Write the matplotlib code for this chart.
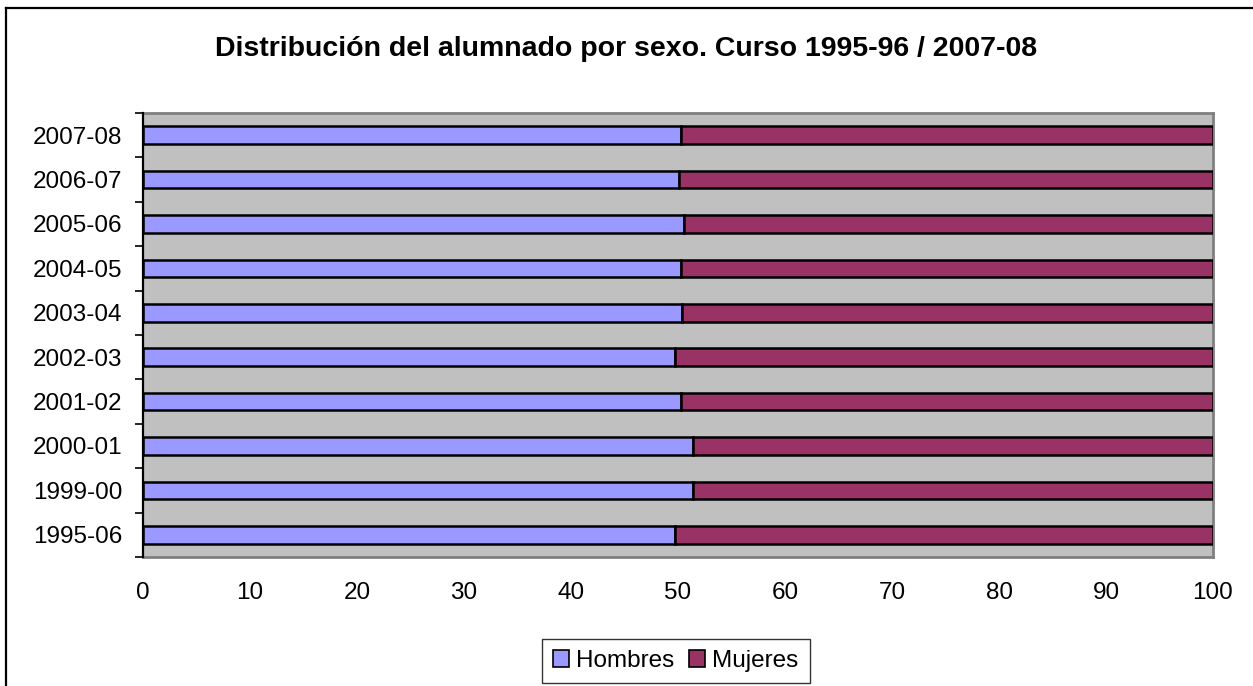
import matplotlib
matplotlib.use("Agg")
import matplotlib.pyplot as plt
from matplotlib.lines import Line2D
from matplotlib.patches import Patch

plt.rcParams['font.family'] = ['Liberation Sans', 'DejaVu Sans']

courses = ["1995-06", "1999-00", "2000-01", "2001-02", "2002-03",
           "2003-04", "2004-05", "2005-06", "2006-07", "2007-08"]
hombres = [49.7, 51.4, 51.4, 50.3, 49.7, 50.4, 50.3, 50.6, 50.1, 50.3]
mujeres = [100 - h for h in hombres]
xticks = [0, 10, 20, 30, 40, 50, 60, 70, 80, 90, 100]
title = "Distribución del alumnado por sexo. Curso 1995-96 / 2007-08"

c_h = "#9999FF"
c_m = "#993366"

fig = plt.figure(figsize=(12.53, 6.86), dpi=100)
fig.patch.set_facecolor("white")

ax = fig.add_axes([143/1253, 1 - 557/686, (1213 - 143)/1253, (557 - 113)/686])
ax.set_facecolor("#C0C0C0")

ypos = list(range(len(courses)))
ax.barh(ypos, hombres, height=0.4, color=c_h, edgecolor="black", linewidth=1.8, zorder=3)
ax.barh(ypos, mujeres, left=hombres, height=0.4, color=c_m, edgecolor="black", linewidth=1.8, zorder=3)

ax.set_xlim(0, 100)
ax.set_ylim(-0.5, len(courses) - 0.5)
ax.set_xticks(xticks)
ax.set_xticklabels([str(x) for x in xticks], fontsize=17.5)
ax.tick_params(axis="x", length=0, pad=18)
ax.set_yticks(ypos)
ax.set_yticklabels(courses, fontsize=17.5)
ax.tick_params(axis="y", which="major", length=0, pad=15)
ax.set_yticks([y - 0.5 for y in ypos] + [len(courses) - 0.5], minor=True)
ax.tick_params(axis="y", which="minor", length=6, width=1.2, color="black", direction="out")

for side in ["top", "right", "bottom"]:
    ax.spines[side].set_color("#808080")
    ax.spines[side].set_linewidth(2)
ax.spines["left"].set_color("black")
ax.spines["left"].set_linewidth(1.6)
ax.spines["left"].set_zorder(4)

fig.text(0.5, 1 - 49/686, title, ha="center", va="center", fontsize=20.5, fontweight="bold")

handles = [Patch(facecolor=c_h, edgecolor="black", linewidth=1.2, label="Hombres"),
           Patch(facecolor=c_m, edgecolor="black", linewidth=1.2, label="Mujeres")]
leg = fig.legend(handles=handles, loc="center", bbox_to_anchor=(676/1253, 1 - 661/686),
                 ncol=2, fontsize=17.5, frameon=True, fancybox=False,
                 handlelength=0.65, handleheight=0.65, handletextpad=0.3, columnspacing=0.6,
                 borderpad=0.45)
leg.get_frame().set_edgecolor("black")
leg.get_frame().set_linewidth(1.0)

# chart area frame (top & left visible)
fig.add_artist(Line2D([6/1253, 1.0], [1 - 8/686, 1 - 8/686], color="black", linewidth=1.6,
                      transform=fig.transFigure))
fig.add_artist(Line2D([6/1253, 6/1253], [0.0, 1 - 8/686], color="black", linewidth=1.6,
                      transform=fig.transFigure))

fig.savefig("out.png", dpi=100)
